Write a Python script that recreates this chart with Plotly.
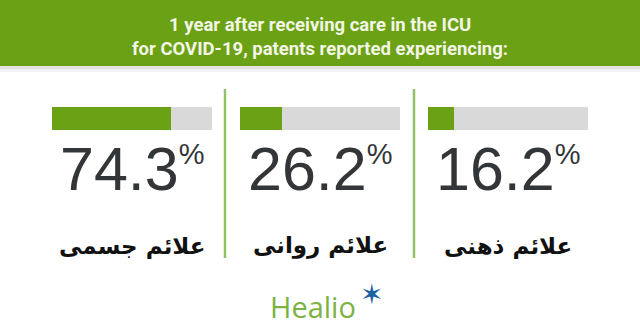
import plotly.graph_objects as go

# ---- data ----
categories = ["علائم جسمی", "علائم روانی", "علائم ذهنی"]
values = [74.3, 26.2, 16.2]
title_lines = ["1 year after receiving care in the ICU",
               "for COVID-19, patents reported experiencing:"]
brand = "Healio"

W, H = 640, 336
GREEN = "#6ba114"
GRAY = "#d9d9d9"
DARK = "#333639"

def px(x):
    return x / W

def py(y):
    return 1 - y / H

# panel geometry (pixels)
bar_x = [(52, 212), (240, 400), (428, 588)]
bar_y = (107, 130)
centers = [(a + b) / 2 for a, b in bar_x]

fig = go.Figure()
axis_names = ["x", "x2", "x3"]
for i, (cat, v) in enumerate(zip(categories, values)):
    xa = axis_names[i]
    fig.add_trace(go.Bar(x=[100], y=[0], orientation="h", marker=dict(color=GRAY, line=dict(width=0)),
                         width=1, xaxis=xa, yaxis="y", hoverinfo="skip", showlegend=False))
    fig.add_trace(go.Bar(x=[v], y=[0], orientation="h", marker=dict(color=GREEN, line=dict(width=0)),
                         width=1, xaxis=xa, yaxis="y", name=cat, showlegend=False))

layout = dict(
    width=W, height=H, margin=dict(l=0, r=0, t=0, b=0),
    paper_bgcolor="white", plot_bgcolor="rgba(0,0,0,0)",
    barmode="overlay", bargap=0,
    yaxis=dict(domain=[py(bar_y[1]), py(bar_y[0])], range=[-0.5, 0.5], visible=False, fixedrange=True),
)
for i, (a, b) in enumerate(bar_x):
    key = "xaxis" if i == 0 else f"xaxis{i+1}"
    layout[key] = dict(domain=[px(a), px(b)], range=[0, 100], visible=False, anchor="y", fixedrange=True)
fig.update_layout(**layout)

shapes = []
# header band
shapes.append(dict(type="rect", xref="paper", yref="paper", x0=0, x1=1, y0=py(66), y1=1,
                   fillcolor=GREEN, line=dict(width=0), layer="below"))
shapes.append(dict(type="rect", xref="paper", yref="paper", x0=0, x1=1, y0=py(69), y1=py(66),
                   fillcolor="#e4e4e4", line=dict(width=0), layer="below"))
shapes.append(dict(type="rect", xref="paper", yref="paper", x0=0, x1=1, y0=py(72), y1=py(69),
                   fillcolor="#f3f3f3", line=dict(width=0), layer="below"))
# dividers
for xd in (225, 414):
    shapes.append(dict(type="line", xref="paper", yref="paper", x0=px(xd), x1=px(xd),
                       y0=py(258), y1=py(89), line=dict(color="#92c266", width=2.5)))
fig.update_layout(shapes=shapes)

ann = []
title_font = dict(family="Roboto, Liberation Sans, sans-serif",
                  size=18.5, color="#f3f6e6", weight="bold")
for line, yc in zip(title_lines, (25, 48.5)):
    ann.append(dict(text=line, x=0.5, y=py(yc), xref="paper", yref="paper", xanchor="center",
                    yanchor="middle", showarrow=False, font=title_font))

for c, v, cat in zip(centers, values, categories):
    ann.append(dict(text=f"{v:.1f}<sup><span style='font-size:29px'>%</span></sup>",
                    x=px(c), y=py(169), xref="paper", yref="paper", xanchor="center", yanchor="middle",
                    showarrow=False, font=dict(family="Liberation Sans, Arial, sans-serif", size=61, color=DARK)))
    ann.append(dict(text=cat, x=px(c), y=py(246), xref="paper", yref="paper", xanchor="center",
                    yanchor="middle", showarrow=False,
                    font=dict(family="DejaVu Sans, sans-serif", size=23, color="#111111", weight="bold")))

ann.append(dict(text=brand, x=px(313), y=py(306), xref="paper", yref="paper", xanchor="center",
                yanchor="middle", showarrow=False,
                font=dict(family="Open Sans, sans-serif", size=29, color="#7bb342")))
ann.append(dict(text="✶", x=px(371), y=py(294), xref="paper", yref="paper", xanchor="center",
                yanchor="middle", showarrow=False,
                font=dict(family="DejaVu Sans, sans-serif", size=28, color="#1d62a3")))
fig.update_layout(annotations=ann)

fig.write_html("out.html")
